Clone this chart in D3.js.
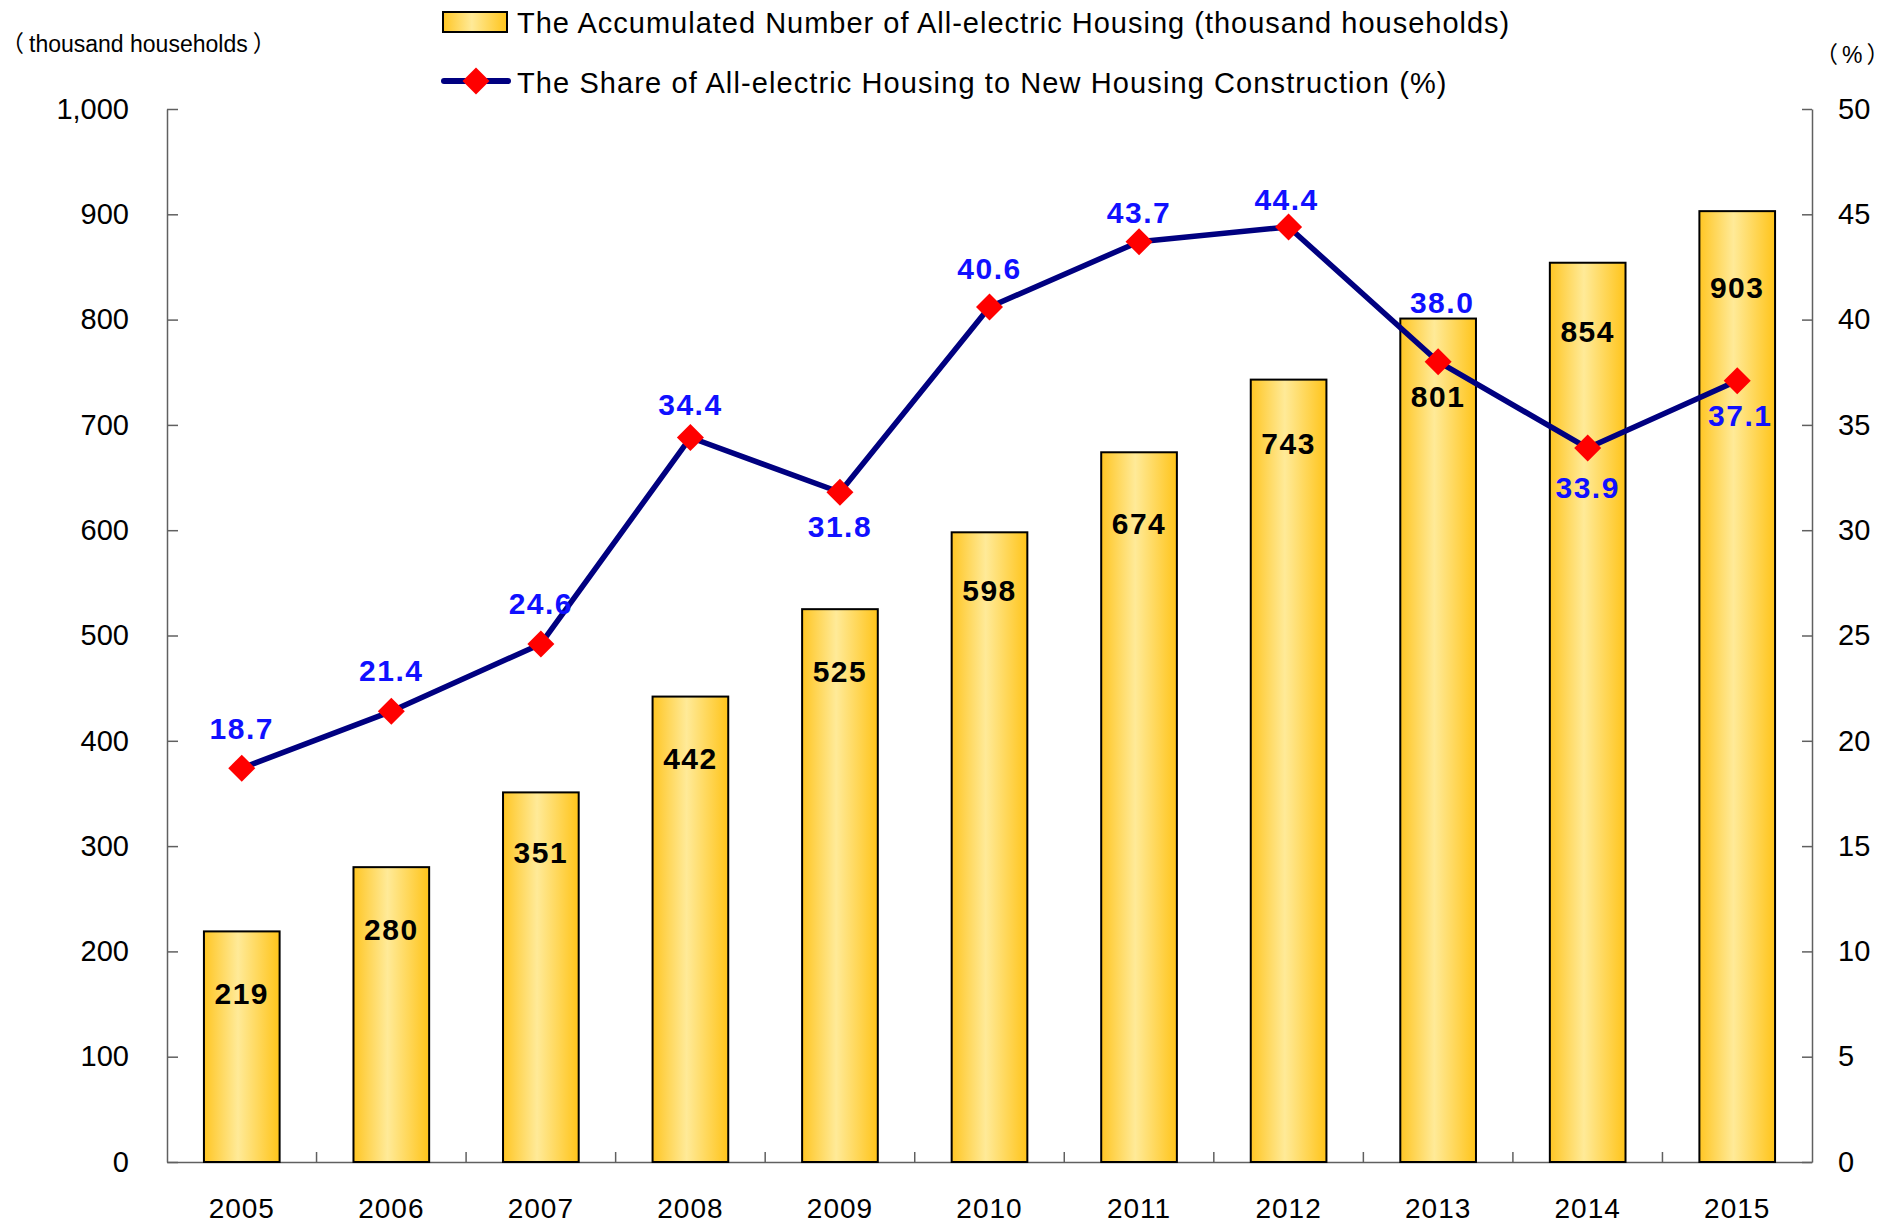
<!DOCTYPE html>
<html>
<head>
<meta charset="utf-8">
<script src="https://cdn.jsdelivr.net/npm/d3@7"></script>
<style>
  html, body { margin: 0; padding: 0; background: #fff; }
  svg { display: block; font-family: "Liberation Sans", Arial, sans-serif; }
</style>
</head>
<body>
<svg id="chart" width="1892" height="1225"></svg>
<script>
// ---- data ----
const years = ["2005","2006","2007","2008","2009","2010","2011","2012","2013","2014","2015"];
const accumulated = [219, 280, 351, 442, 525, 598, 674, 743, 801, 854, 903];
const sharePct = [18.7, 21.4, 24.6, 34.4, 31.8, 40.6, 43.7, 44.4, 38.0, 33.9, 37.1];
const leftTicks = [0, 100, 200, 300, 400, 500, 600, 700, 800, 900, 1000];
const rightTicks = [0, 5, 10, 15, 20, 25, 30, 35, 40, 45, 50];
const barLegend = "The Accumulated Number of All-electric Housing (thousand households)";
const lineLegend = "The Share of All-electric Housing to New Housing Construction (%)";
const leftUnit = "（thousand households）";
const rightUnit = "（%）";

// label placement (styling, not data)
const shareLabelDy = [-40, -41, -41, -34, 34, -39, -30, -28, -60, 39, 34];
const shareLabelDx = [0, 0, 0, 0, 0, 0, 0, -2, 4, 0, 3];
const barLabelDy = [62, 62, 60, 61, 62, 58, 71, 63, 77, 68, 76];

const svg = d3.select("#chart");
const M = { left: 167, right: 1812, top: 109, bottom: 1162 };

const x = d3.scaleBand().domain(years).range([M.left, M.right]).paddingInner(0.494).paddingOuter(0.247);
const yL = d3.scaleLinear().domain([0, 1000]).range([M.bottom, M.top]);
const yR = d3.scaleLinear().domain([0, 50]).range([M.bottom, M.top]);

// gradient
const defs = svg.append("defs");
const grad = defs.append("linearGradient").attr("id", "barGrad").attr("x1", "0").attr("x2", "1").attr("y1", "0").attr("y2", "0");
grad.append("stop").attr("offset", "0").attr("stop-color", "#FFC624");
grad.append("stop").attr("offset", "0.45").attr("stop-color", "#FFEA98");
grad.append("stop").attr("offset", "1").attr("stop-color", "#FFC41A");

const axisColor = "#606060";

// left axis
const axL = svg.append("g").attr("transform", `translate(${M.left},0)`)
  .call(d3.axisLeft(yL).tickValues(leftTicks).tickSizeInner(-11).tickSizeOuter(0).tickPadding(38)
    .tickFormat(d3.format(",")));
axL.selectAll("text").attr("font-size", 29).attr("fill", "#000").attr("font-family", "Liberation Sans, Arial, sans-serif");
axL.selectAll("line").attr("stroke", axisColor).attr("stroke-width", 1.5);
axL.select(".domain").attr("stroke", axisColor).attr("stroke-width", 1.5);

// right axis
const axR = svg.append("g").attr("transform", `translate(${M.right},0)`)
  .call(d3.axisRight(yR).tickValues(rightTicks).tickSizeInner(-10).tickSizeOuter(0).tickPadding(26));
axR.selectAll("text").attr("font-size", 29).attr("fill", "#000").attr("font-family", "Liberation Sans, Arial, sans-serif");
axR.selectAll("line").attr("stroke", axisColor).attr("stroke-width", 1.5);
axR.select(".domain").attr("stroke", axisColor).attr("stroke-width", 1.5);

// bottom axis (labels)
const axB = svg.append("g").attr("transform", `translate(0,${M.bottom})`)
  .call(d3.axisBottom(x).tickSizeInner(0).tickSizeOuter(0).tickPadding(36));
axB.selectAll("text").attr("font-size", 28).attr("fill", "#000").attr("letter-spacing", "1px")
  .attr("font-family", "Liberation Sans, Arial, sans-serif");
axB.select(".domain").attr("stroke", axisColor).attr("stroke-width", 1.5);

// category boundary ticks
const gap = x.step() - x.bandwidth();
svg.append("g").selectAll("line").data(years.slice(1)).join("line")
  .attr("x1", d => x(d) - gap / 2).attr("x2", d => x(d) - gap / 2)
  .attr("y1", M.bottom).attr("y2", M.bottom - 10)
  .attr("stroke", axisColor).attr("stroke-width", 1.5);

// bars
svg.append("g").selectAll("rect").data(accumulated).join("rect")
  .attr("x", (d, i) => x(years[i]))
  .attr("y", d => yL(d))
  .attr("width", x.bandwidth())
  .attr("height", d => yL(0) - yL(d))
  .attr("fill", "url(#barGrad)")
  .attr("stroke", "#000").attr("stroke-width", 2);

// bar labels
svg.append("g").selectAll("text").data(accumulated).join("text")
  .attr("x", (d, i) => x(years[i]) + x.bandwidth() / 2)
  .attr("y", (d, i) => yL(d) + barLabelDy[i] + 11)
  .attr("text-anchor", "middle")
  .attr("font-size", 30).attr("font-weight", "bold").attr("letter-spacing", "1.5px")
  .attr("fill", "#000")
  .text(d => d3.format("d")(d));

// line
const cx = i => x(years[i]) + x.bandwidth() / 2;
const line = d3.line().x((d, i) => cx(i)).y(d => yR(d));
svg.append("path").datum(sharePct)
  .attr("d", line).attr("fill", "none")
  .attr("stroke", "#000080").attr("stroke-width", 5.5).attr("stroke-linejoin", "round");

// markers
const diamond = d3.symbol().type(d3.symbolSquare).size(365);
svg.append("g").selectAll("path").data(sharePct).join("path")
  .attr("d", diamond)
  .attr("transform", (d, i) => `translate(${cx(i)},${yR(d)}) rotate(45)`)
  .attr("fill", "#FF0000");

// share labels
svg.append("g").selectAll("text").data(sharePct).join("text")
  .attr("x", (d, i) => cx(i) + shareLabelDx[i])
  .attr("y", (d, i) => yR(d) + shareLabelDy[i] + 11)
  .attr("text-anchor", "middle")
  .attr("font-size", 30).attr("font-weight", "bold").attr("letter-spacing", "1.5px")
  .attr("fill", "#1010FF")
  .text(d => d3.format(".1f")(d));

// unit labels (fullwidth parentheses drawn with a CJK font, with inner gaps)
function unitLabel(str, xPos, yPos, pad) {
  const t = svg.append("text").attr("x", xPos).attr("y", yPos).attr("font-size", 23).attr("fill", "#000");
  const parts = str.match(/[\uFF08\uFF09]|[^\uFF08\uFF09]+/g);
  parts.forEach((p, i) => {
    const ts = t.append("tspan").text(p);
    if (i > 0) ts.attr("dx", pad);
    if (/[\uFF08\uFF09]/.test(p)) ts.attr("font-family", "'Noto Sans CJK JP', sans-serif");
    else ts.attr("font-family", "Liberation Sans, Arial, sans-serif");
  });
}
unitLabel(leftUnit, 1, 52, 5);
unitLabel(rightUnit, 1815, 63, 4);

// legend
const lg = svg.append("g");
lg.append("rect").attr("x", 443).attr("y", 12).attr("width", 64).attr("height", 20)
  .attr("fill", "url(#barGrad)").attr("stroke", "#000").attr("stroke-width", 2);
lg.append("text").attr("x", 517).attr("y", 33).attr("font-size", 29).attr("letter-spacing", "1px")
  .attr("fill", "#000").text(barLegend);
lg.append("line").attr("x1", 444).attr("x2", 508).attr("y1", 81).attr("y2", 81)
  .attr("stroke", "#000080").attr("stroke-width", 6).attr("stroke-linecap", "round");
lg.append("path").attr("d", diamond).attr("transform", "translate(476,81) rotate(45)").attr("fill", "#FF0000");
lg.append("text").attr("x", 517).attr("y", 93).attr("font-size", 29).attr("letter-spacing", "1.1px")
  .attr("fill", "#000").text(lineLegend);
</script>
</body>
</html>
